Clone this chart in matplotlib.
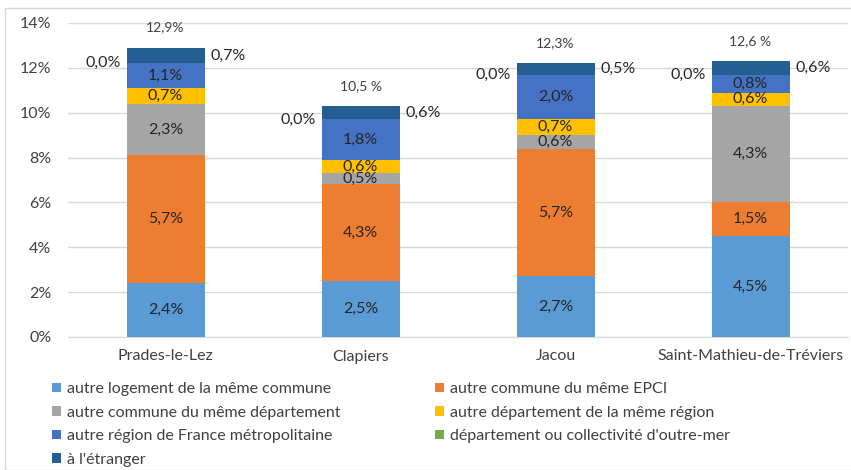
import matplotlib.pyplot as plt
from matplotlib.patches import Rectangle
import numpy as np

plt.rcParams['font.family'] = ['Lato', 'DejaVu Sans']

communes = ['Prades-le-Lez', 'Clapiers', 'Jacou', 'Saint-Mathieu-de-Tréviers']
series_names = [
    "autre logement de la même commune",
    "autre commune du même EPCI",
    "autre commune du même département",
    "autre département de la même région",
    "autre région de France métropolitaine",
    "département ou collectivité d'outre-mer",
    "à l'étranger",
]
colors = ['#5B9BD5', '#ED7D31', '#A5A5A5', '#FFC000', '#4472C4', '#70AD47', '#255E91']

# values in %, one list per series (order of communes)
meme_commune = [2.4, 2.5, 2.7, 4.5]
meme_epci = [5.7, 4.3, 5.7, 1.5]
meme_dept = [2.3, 0.5, 0.6, 4.3]
meme_region = [0.7, 0.6, 0.7, 0.6]
france_metro = [1.1, 1.8, 2.0, 0.8]
outre_mer = [0.0, 0.0, 0.0, 0.0]
etranger = [0.7, 0.6, 0.5, 0.6]
totals_txt = ['12,9%', '10,5 %', '12,3%', '12,6 %']

data = [meme_commune, meme_epci, meme_dept, meme_region, france_metro, outre_mer, etranger]

fig = plt.figure(figsize=(8.51, 4.70), dpi=100)
ax = fig.add_axes([68 / 851, 1 - 337 / 470, 780 / 851, 314 / 470])

x = np.arange(len(communes))
width = 0.4
bottom = np.zeros(len(communes))
handles = []
txt_col = '#262626'

def fmt(v):
    return f"{v:.1f}%".replace('.', ',')

for i, vals in enumerate(data):
    vals = np.array(vals)
    b = ax.bar(x, vals, width, bottom=bottom, color=colors[i], label=series_names[i], zorder=3)
    handles.append(b)
    for j in range(len(communes)):
        if i <= 4:
            ax.text(x[j], bottom[j] + vals[j] / 2, fmt(vals[j]), ha='center', va='center',
                    fontsize=11.5, color=txt_col, zorder=4)
        elif i == 5:
            ax.text(x[j] - width / 2 - 0.03, bottom[j] + vals[j], fmt(vals[j]), ha='right', va='center',
                    fontsize=11.5, color=txt_col, zorder=4)
        else:
            ax.text(x[j] + width / 2 + 0.03, bottom[j] + vals[j] / 2, fmt(vals[j]), ha='left', va='center',
                    fontsize=11.5, color=txt_col, zorder=4)
    bottom += vals

for j in range(len(communes)):
    ax.text(x[j], bottom[j] + 0.9, totals_txt[j], ha='center', va='center', fontsize=10, color='#404040')

ax.set_xlim(-0.5, len(communes) - 0.5)
ax.set_ylim(0, 14)
ax.set_yticks(np.arange(0, 15, 2))
ax.set_yticklabels([f"{v}%" for v in range(0, 15, 2)])
ax.set_xticks(x)
ax.set_xticklabels(communes)
ax.tick_params(axis='both', length=0, labelsize=11.5, labelcolor='#404040')
ax.tick_params(axis='y', pad=12)
ax.tick_params(axis='x', pad=9)
ax.grid(axis='y', color='#D9D9D9', linewidth=1, zorder=0)
for s in ['top', 'right', 'left']:
    ax.spines[s].set_visible(False)
ax.spines['bottom'].set_color('#D9D9D9')

# legend: row-major order like the reference -> reorder for column filling
order = [0, 2, 4, 6, 1, 3, 5]
leg = fig.legend([handles[k] for k in order], [series_names[k] for k in order],
                 ncol=2, loc='upper left', bbox_to_anchor=(44 / 851, 1 - 374 / 470),
                 frameon=False, fontsize=11.5, handlelength=0.55, handleheight=0.55,
                 handletextpad=0.4, columnspacing=5.9, labelspacing=0.6, borderpad=0)
for t in leg.get_texts():
    t.set_color('#404040')

fig.patches.append(Rectangle((5 / 851, 0), 1, 1 - 8 / 470, transform=fig.transFigure,
                             fill=False, edgecolor='#D9D9D9', linewidth=1))

fig.savefig('out.png', dpi=100)
